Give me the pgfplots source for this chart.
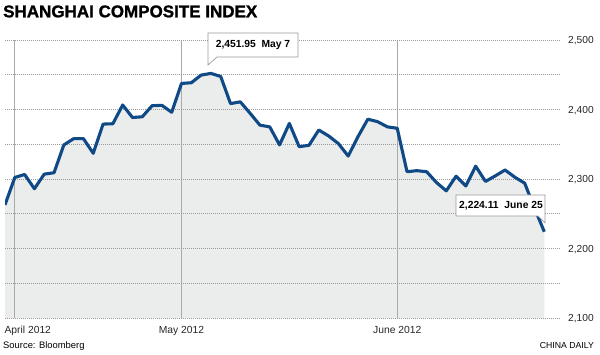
\documentclass[border=0pt]{standalone}
\usepackage{fontspec}
\setmainfont{Liberation Sans}
\newfontfamily\titlefont{Liberation Sans}[BoldFeatures={FakeBold=1.2}]
\usepackage{pgfplots}
\usepackage{pgfplotstable}
\pgfplotsset{compat=1.18}
\definecolor{lineblue}{HTML}{0F4A86}
\definecolor{fillgray}{HTML}{EBECEC}
\definecolor{gridgray}{HTML}{9A9A9A}
\definecolor{vgray}{HTML}{AAAAAA}
\definecolor{boxgray}{HTML}{9A9A9A}

\pgfplotstableread{
i v
0 2262.79
1 2302.2
2 2306.5
3 2286.0
4 2307.0
5 2309.0
6 2349.0
7 2358.0
8 2358.0
9 2337.0
10 2379.0
11 2379.5
12 2406.5
13 2388.5
14 2389.5
15 2405.5
16 2406.0
17 2396.0
18 2437.5
19 2438.5
20 2449.5
21 2451.95
22 2447.5
23 2408.5
24 2411.0
25 2394.5
26 2377.5
27 2375.0
28 2349.0
29 2380.0
30 2346.5
31 2348.5
32 2370.5
33 2362.0
34 2351.0
35 2333.0
36 2361.0
37 2386.0
38 2382.5
39 2375.0
40 2373.0
41 2310.5
42 2312.0
43 2310.5
44 2295.0
45 2283.0
46 2304.0
47 2290.0
48 2318.5
49 2296.5
50 2304.5
51 2313.0
52 2302.5
53 2294.0
54 2258.0
55 2224.11
}\datatable

\begin{document}
\begin{tikzpicture}
\begin{axis}[
  set layers,
  at={(5pt,36pt)}, anchor=south west,
  scale only axis, width=555pt, height=278pt,
  xmin=0, xmax=56.6, ymin=2100, ymax=2500,
  axis line style={draw=none},
  major tick length=0pt, minor tick length=0pt,
  xtick={1,18,40},
  xticklabels={\hspace*{26pt}April 2012, May 2012, June 2012},
  xticklabel style={anchor=base, inner sep=0pt, yshift=-15.3pt, font=\fontsize{10.3}{12}\selectfont, text=black!85},
  ytick={2100,2200,2300,2400,2500},
  yticklabels={{2,100},{2,200},{2,300},{2,400},{2,500}},
  minor ytick={2150,2250,2350,2450},
  yticklabel pos=right,
  yticklabel style={anchor=west, inner sep=0pt, xshift=8pt, yshift=-1pt, font=\fontsize{10.2}{12}\selectfont, text=black!85},
  /pgf/number format/assume math mode=true,
  xmajorgrids, ymajorgrids, yminorgrids,
  x grid style={vgray, line width=0.7pt, solid},
  y grid style={gridgray, line width=0.6pt, dash pattern=on 1.2pt off 0.8pt},
  minor y grid style={gridgray, line width=0.6pt, dash pattern=on 1.2pt off 0.8pt},
]
\addplot[fill=fillgray, draw=none, on layer=axis background] table[x=i,y=v]{\datatable} -- (axis cs:55,2100) -- (axis cs:0,2100) -- cycle;
\addplot[lineblue, line width=3.1pt, line join=round, line cap=butt] table[x=i,y=v]{\datatable};
\end{axis}

% title
\node[anchor=base west, inner sep=0pt] at (3pt,336.7pt) {\titlefont\bfseries\fontsize{17}{20}\selectfont SHANGHAI COMPOSITE INDEX};

% callout 1
\filldraw[fill=white, draw=boxgray, line width=0.7pt]
  (208pt,321pt) -- (298pt,321pt) -- (298pt,297pt) -- (217pt,297pt) -- (208pt,289pt) -- cycle;
\node[anchor=center, inner sep=0pt] at (253pt,309pt) {\bfseries\fontsize{10.3}{12}\selectfont 2,451.95\ \ May 7};

% callout 2
\filldraw[fill=white, draw=boxgray, line width=0.7pt]
  (456pt,159pt) -- (545pt,159pt) -- (545pt,131pt) -- (538pt,138pt) -- (456pt,138pt) -- cycle;
\node[anchor=center, inner sep=0pt] at (501pt,148.5pt) {\bfseries\fontsize{10.3}{12}\selectfont 2,224.11\ \ June 25};

% footer
\node[anchor=base west, inner sep=0pt] at (3pt,6pt) {\fontsize{9.4}{12}\selectfont Source: Bloomberg};
\node[anchor=base east, inner sep=0pt] at (594pt,6pt) {\fontsize{8.7}{12}\selectfont CHINA DAILY};
\pgfresetboundingbox
\path[use as bounding box] (0pt,0pt) rectangle (600pt,354pt);
\end{tikzpicture}
\end{document}
